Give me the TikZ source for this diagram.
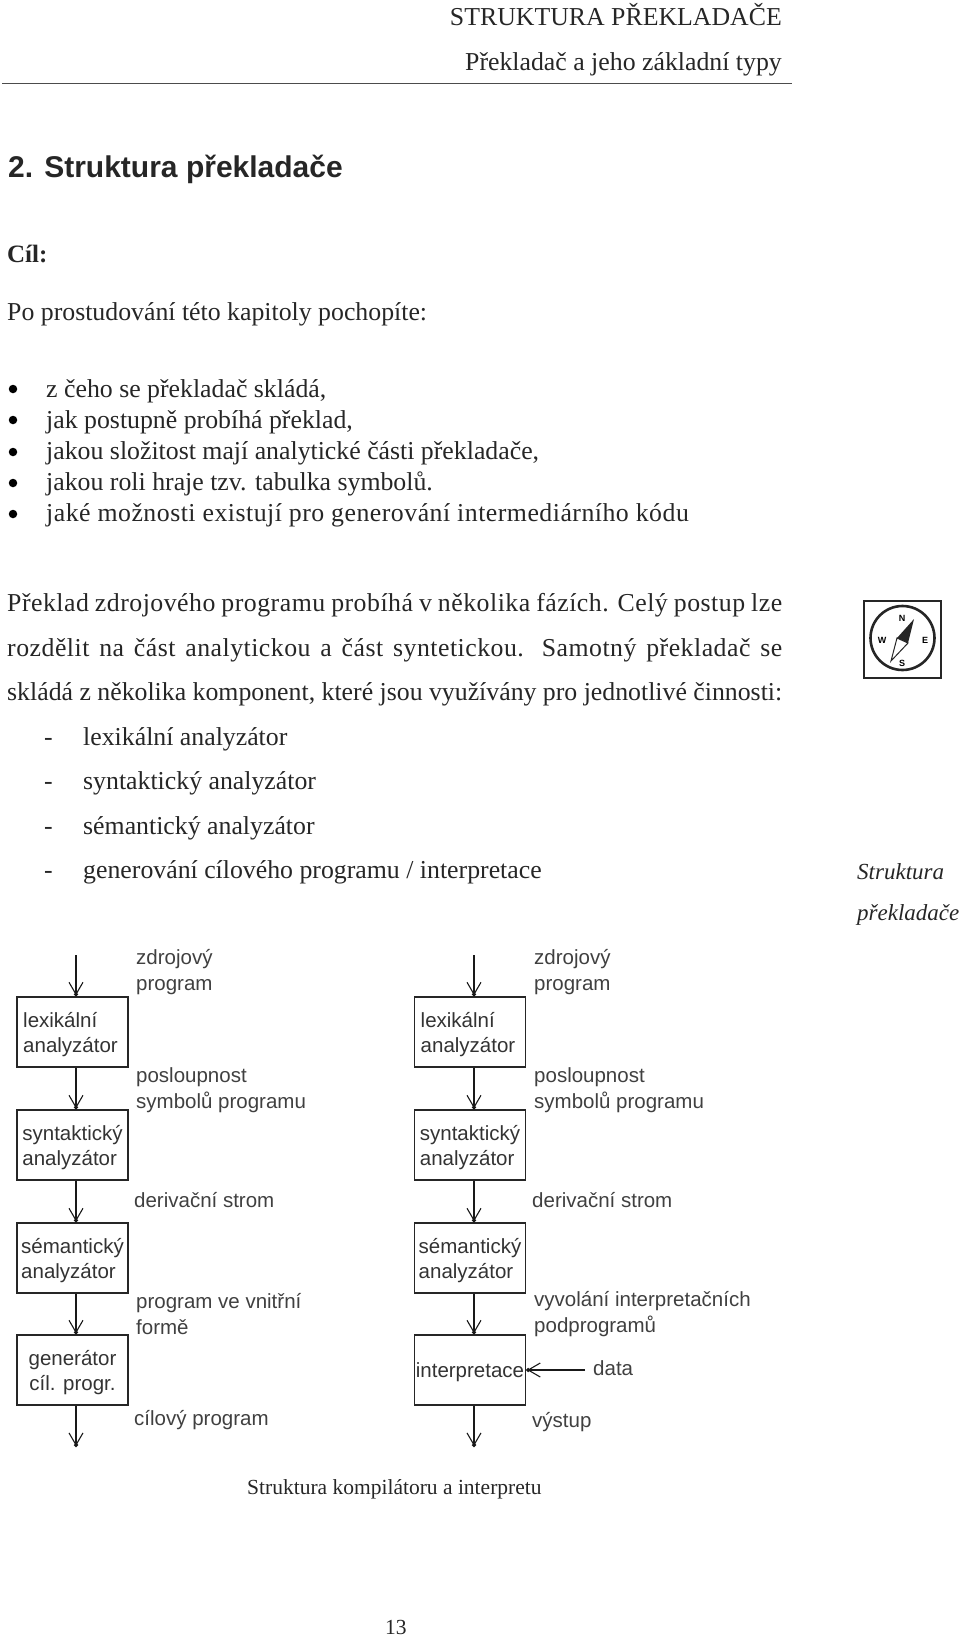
\documentclass[tikz,border=0pt]{standalone}
\usepackage{fontspec}
\setmainfont{Liberation Serif}
\newfontfamily\labelfont{Liberation Sans}
\usetikzlibrary{arrows.meta}
\newcommand{\wide}{\addfontfeature{LetterSpace=1.9}}
\tikzset{
  bodytext/.style={anchor=base west,inner sep=0pt,font=\fontsize{25.8}{30}\selectfont,text=black!85},
  headtext/.style={anchor=base east,inner sep=0pt,font=\fontsize{25.8}{30}\selectfont,text=black!85},
  marginnote/.style={anchor=base west,inner sep=0pt,font=\fontsize{23}{27}\itshape\selectfont,text=black!85},
  bulletdot/.style={circle,fill=black,inner sep=0pt,minimum size=8.5pt},
  stagebox/.style={draw=black!85,line width=1.3pt,minimum width=111pt,minimum height=70pt,inner sep=0pt,text depth=0pt,align=left,font=\labelfont\fontsize{20.5}{25}\selectfont,text=black!80},
  flowlabel/.style={anchor=base west,inner sep=0pt,font=\labelfont\fontsize{20.5}{25}\selectfont,text=black!75},
  flow/.style={draw=black!90,line width=1.3pt,-{Straight Barb[length=12pt,width=14pt,line width=1.1pt,sep=-3pt] Circle[length=4pt]}},
  compassletter/.style={inner sep=0pt,font=\labelfont\bfseries\fontsize{9}{9}\selectfont},
}
\begin{document}
\begin{tikzpicture}[x=1pt,y=-1pt]
\useasboundingbox (0,0) rectangle (960,1636);
% header
\node[headtext] (h1) at (782,25) {STRUKTURA PŘEKLADAČE};
\node[headtext] (h2) at (782,70) {Překladač a jeho základní typy};
\coordinate (ruleL) at (2,83);
\coordinate (ruleR) at (792,83);
\draw[line width=1pt,black!70] (ruleL) -- (ruleR);
% titles
\node[anchor=base west,inner sep=0pt,font=\labelfont\bfseries\fontsize{30}{34}\selectfont,text=black!85] (title) at (8,177) {2. Struktura překladače};
\node[bodytext,font=\bfseries\fontsize{25}{30}\selectfont] (cil) at (7,262) {Cíl:};
\node[bodytext] (po) at (7,320) {Po prostudování této kapitoly pochopíte:};
% list
\node[bulletdot] (b1) at (13,389) {};
\node[bulletdot] (b2) at (13,420) {};
\node[bulletdot] (b3) at (13,452) {};
\node[bulletdot] (b4) at (13,483) {};
\node[bulletdot] (b5) at (13,514) {};
\node[bodytext] (l1) at (46,397) {z čeho se překladač skládá,};
\node[bodytext] (l2) at (46,428) {jak postupně probíhá překlad,};
\node[bodytext] (l3) at (46,459) {jakou složitost mají analytické části překladače,};
\node[bodytext] (l4) at (46,490) {jakou roli hraje tzv. tabulka symbolů.};
\node[bodytext] (l5) at (46,521) {\wide jaké možnosti existují pro generování intermediárního kódu};
% paragraph
\node[bodytext] (p1) at (7,611) {\makebox[775pt][s]{\wide Překlad zdrojového programu probíhá v několika fázích. Celý postup lze}};
\node[bodytext] (p2) at (7,656) {\makebox[775pt][s]{\wide rozdělit na část analytickou a část syntetickou. Samotný překladač se}};
\node[bodytext] (p3) at (7,700) {\makebox[775pt][s]{skládá z několika komponent, které jsou využívány pro jednotlivé činnosti:}};
\node[bodytext] (d1) at (44,745) {-};
\node[bodytext] (d2) at (44,789) {-};
\node[bodytext] (d3) at (44,834) {-};
\node[bodytext] (d4) at (44,878) {-};
\node[bodytext] (t1) at (83,745) {lexikální analyzátor};
\node[bodytext] (t2) at (83,789) {syntaktický analyzátor};
\node[bodytext] (t3) at (83,834) {sémantický analyzátor};
\node[bodytext] (t4) at (83,878) {generování cílového programu / interpretace};
\node[marginnote] (m1) at (857,879) {Struktura};
\node[marginnote] (m2) at (857,920) {překladače};
% compass
\node[draw=black!85,line width=1.6pt,minimum size=77pt,inner sep=0pt] (cbox) at (902.5,639.5) {};
\draw[black!85,line width=2.6pt] (902.5,638) circle (32);
\fill[black!85] (914,619) -- (908,643) -- (897,638) -- cycle;
\draw[black!85,line width=1pt,fill=white] (908,643) -- (891,661) -- (897,638) -- cycle;
\node[compassletter] (cn) at (902,618) {N};
\node[compassletter] (cs) at (902,663) {S};
\node[compassletter] (cw) at (882,640) {W};
\node[compassletter] (ce) at (925,640) {E};
% left flow
\coordinate (ltop) at (76,955);
\node[stagebox] (lex) at (72.5,1032) {lexikální\\analyzátor\hspace*{4pt}};
\node[stagebox] (syn) at (72.5,1145) {syntaktický\\analyzátor};
\node[stagebox] (sem) at (72.5,1258) {sémantický\\analyzátor};
\node[stagebox,align=center] (gen) at (72.5,1370) {generátor\\cíl. progr.};
\coordinate (lbot) at (76,1447);
\draw[flow] (ltop) -- (ltop|-lex.north);
\draw[flow] (lex.south-|ltop) -- (syn.north-|ltop);
\draw[flow] (syn.south-|ltop) -- (sem.north-|ltop);
\draw[flow] (sem.south-|ltop) -- (gen.north-|ltop);
\draw[flow] (gen.south-|ltop) -- (lbot);
\node[flowlabel] (a1) at (136,964) {zdrojový};
\node[flowlabel] (a2) at (136,990) {program};
\node[flowlabel] (a3) at (136,1082) {posloupnost};
\node[flowlabel] (a4) at (136,1108) {symbolů programu};
\node[flowlabel] (a5) at (134,1207) {derivační strom};
\node[flowlabel] (a6) at (136,1308) {program ve vnitřní};
\node[flowlabel] (a7) at (136,1334) {formě};
\node[flowlabel] (a8) at (134,1425) {cílový program};
% right flow
\coordinate (rtop) at (474,955);
\node[stagebox] (rlex) at (470,1032) {lexikální\\analyzátor\hspace*{4pt}};
\node[stagebox] (rsyn) at (470,1145) {syntaktický\\analyzátor};
\node[stagebox] (rsem) at (470,1258) {sémantický\\analyzátor};
\node[stagebox] (rint) at (470,1370) {interpretace};
\coordinate (rbot) at (474,1447);
\draw[flow] (rtop) -- (rtop|-rlex.north);
\draw[flow] (rlex.south-|rtop) -- (rsyn.north-|rtop);
\draw[flow] (rsyn.south-|rtop) -- (rsem.north-|rtop);
\draw[flow] (rsem.south-|rtop) -- (rint.north-|rtop);
\draw[flow] (rint.south-|rtop) -- (rbot);
\node[flowlabel] (b1a) at (534,964) {zdrojový};
\node[flowlabel] (b2a) at (534,990) {program};
\node[flowlabel] (b3a) at (534,1082) {posloupnost};
\node[flowlabel] (b4a) at (534,1108) {symbolů programu};
\node[flowlabel] (b5a) at (532,1207) {derivační strom};
\node[flowlabel] (b6a) at (534,1306) {vyvolání interpretačních};
\node[flowlabel] (b7a) at (534,1332) {podprogramů};
\node[flowlabel] (dat) at (593,1375) {data};
\node[flowlabel] (vys) at (532,1427) {výstup};
\draw[flow] (dat.west|-rint.east) ++(-8,0) coordinate (dstart) -- (rint.east);
% caption
\node[bodytext,font=\fontsize{21.5}{25}\selectfont] (cap) at (247,1494) {Struktura kompilátoru a interpretu};
\node[bodytext,font=\fontsize{21.5}{25}\selectfont] (pg) at (385,1634) {13};
\end{tikzpicture}
\end{document}
